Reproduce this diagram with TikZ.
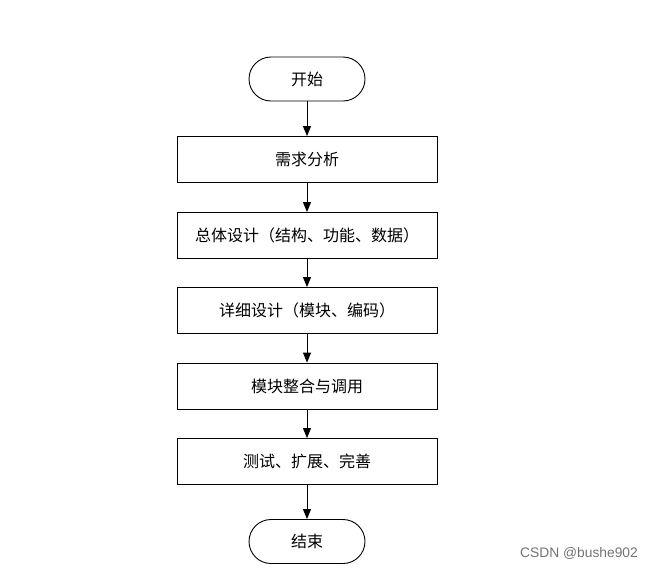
\documentclass[tikz,border=0pt]{standalone}
\usepackage{fontspec}
\newfontfamily\cjk{Noto Sans CJK SC}
\setsansfont{Liberation Sans}
\usetikzlibrary{arrows.meta}
\tikzset{
  proc/.style={draw=black, line width=0.9pt, minimum width=260pt, minimum height=46pt, inner sep=0pt, font=\cjk\fontsize{16}{19}\selectfont},
  term/.style={draw=black, line width=0.9pt, rounded corners=22pt, minimum width=116pt, minimum height=44pt, inner sep=0pt, font=\cjk\fontsize{16}{19}\selectfont},
  flow/.style={draw=black, line width=0.9pt, -{Triangle[width=8pt,length=10pt]}}
}
\begin{document}
\begin{tikzpicture}[x=1pt,y=-1pt]
\useasboundingbox[fill=white] (0,0) rectangle (646,571);
\node[term] (start) at (307,79) {开始};
\node[proc] (b1) at (307,159.5) {需求分析};
\node[proc] (b2) at (307,235.5) {总体设计（结构、功能、数据）};
\node[proc] (b3) at (307,310.5) {详细设计（模块、编码）};
\node[proc] (b4) at (307,386) {模块整合与调用};
\node[proc] (b5) at (307,461.5) {测试、扩展、完善};
\node[term] (end) at (307,541.5) {结束};
\draw[flow] (start) -- (b1);
\draw[flow] (b1) -- (b2);
\draw[flow] (b2) -- (b3);
\draw[flow] (b3) -- (b4);
\draw[flow] (b4) -- (b5);
\draw[flow] (b5) -- (end);
\node[font=\sffamily\fontsize{13.8}{16}\selectfont, text=black!55, anchor=east, inner sep=0pt] (wm) at (638,553) {CSDN @bushe902};
\end{tikzpicture}
\end{document}
